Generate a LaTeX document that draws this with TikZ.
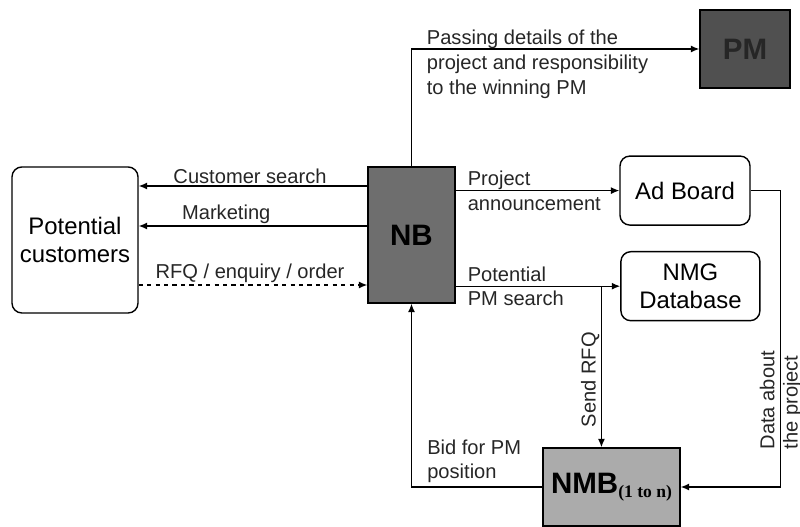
\documentclass[tikz,border=0pt]{standalone}
\usepackage{fontspec}
\setmainfont{Liberation Sans}
\newfontfamily\subfont{Liberation Serif}
\usetikzlibrary{arrows.meta}

\definecolor{nbgray}{HTML}{6E6E6E}
\definecolor{pmgray}{HTML}{505050}
\definecolor{nmbgray}{HTML}{ABABAB}

\begin{document}
\begin{tikzpicture}[
  box/.style={draw, line width=1pt, rounded corners=7pt, fill=white, align=center, font=\fontsize{17}{19.5}\selectfont},
  block/.style={draw, line width=1pt, font=\bfseries\fontsize{21}{24}\selectfont},
  flow/.style={-{Latex[length=6pt,width=5pt]}, line width=0.9pt},
  lbl/.style={font=\fontsize{14.3}{17.5}\selectfont, text=black!85, inner sep=1pt}
]
\useasboundingbox (0,0) rectangle (20,13.175);

\node[box, minimum width=3.15cm, minimum height=3.65cm](cust) at (1.875,7.175) {Potential\\customers};
\node[block, fill=nbgray, minimum width=2.175cm, minimum height=3.4cm](nb) at (10.2875,7.3) {NB};
\node[block, fill=pmgray, text=black!85, minimum width=2.25cm, minimum height=1.95cm](pm) at (18.625,11.95) {PM};
\node[box, minimum width=3.25cm, minimum height=1.725cm](ad) at (17.125,8.41) {Ad Board};
\node[box, minimum width=3.475cm, minimum height=1.725cm](nmg) at (17.26,6.02) {NMG\\Database};
\node[block, fill=nmbgray, minimum width=3.425cm, minimum height=1.95cm](nmb) at (15.2875,1.0)
  {NMB\raisebox{-3pt}{\subfont\bfseries\fontsize{12.5}{14}\selectfont(1 to n)}};

\coordinate (cs) at ([yshift=1.225cm]nb.west);
\coordinate (mk) at ([yshift=0.225cm]nb.west);
\coordinate (rq) at ([yshift=-1.25cm]nb.west);
\draw[flow] (cs) -- node[lbl, above, pos=0.513]{Customer search} (cs -| cust.east);
\draw[flow] (mk) -- node[lbl, above, pos=0.617]{Marketing} (mk -| cust.east);
\draw[flow, dashed] (rq -| cust.east) -- node[lbl, above, pos=0.487]{RFQ / enquiry / order} (rq);

\draw[flow] (nb.north) |- (pm.west);
\node[lbl, anchor=north west, align=left](passing) at (10.63,12.46)
  {Passing details of the\\project and responsibility\\to the winning PM};

\draw[flow] (ad.west -| nb.east) -- (ad.west);
\node[lbl, anchor=west, align=left](announce) at ([xshift=0.26cm]ad.west -| nb.east) {Project\\announcement};

\draw[flow] (nmg.west -| nb.east) -- coordinate[pos=0.886](split) (nmg.west);
\node[lbl, anchor=west, align=left](search) at ([xshift=0.26cm]nmg.west -| nb.east) {Potential\\PM search};

\draw[flow] (split) -- node[lbl, rotate=90, anchor=south, pos=0.58]{Send RFQ} (split |- nmb.north);

\draw[flow] (ad.east) -- ++(0.75,0) |- node[lbl, rotate=90, align=left, pos=0.344, xshift=-0.14cm, font=\fontsize{14.3}{16.5}\selectfont]{Data about\\the project} (nmb.east);

\draw[flow] (nmb.west) -| (nb.south);
\node[lbl, anchor=west, align=left](bid) at (10.64,1.64) {Bid for PM\\position};

\end{tikzpicture}
\end{document}
